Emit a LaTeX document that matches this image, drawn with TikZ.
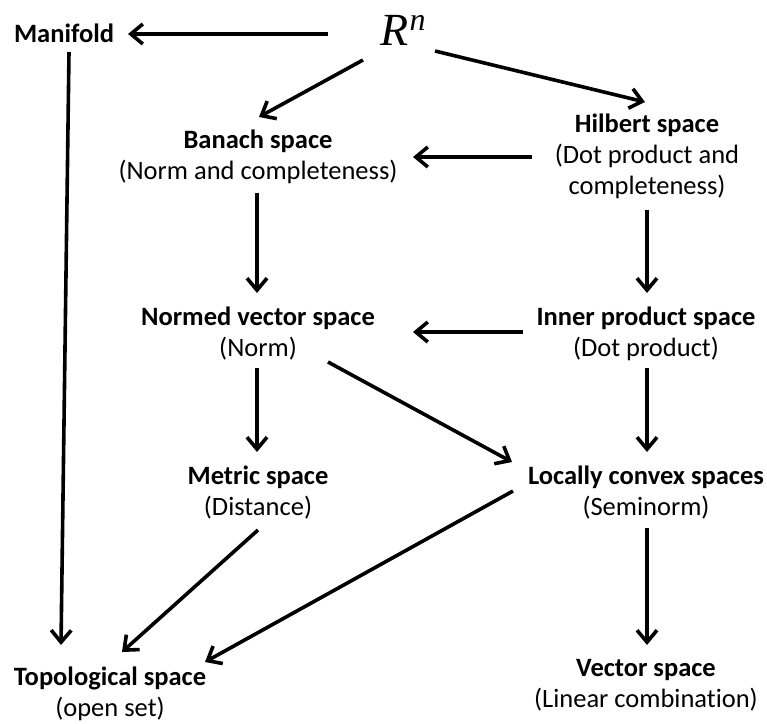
\documentclass[tikz,border=0pt]{standalone}
\usepackage{fontspec}
\setmainfont{Carlito}[Ligatures=NoCommon]
\newfontfamily\rnfont{Liberation Serif}
\usetikzlibrary{arrows.meta}
\tikzset{
  lbl/.style={align=center, inner sep=0pt, font=\fontsize{26.5}{31}\selectfont},
  arr/.style={line width=3.6pt, -{Straight Barb[length=12pt,width=20pt]}}
}
\begin{document}
\begin{tikzpicture}[x=1pt,y=-1pt]
\fill[white] (0,0) rectangle (767,723);
\node[lbl] (man) at (64,33) {\textbf{Manifold}};
\node[inner sep=0pt] (rn) at (403,30) {\rnfont\fontsize{46}{48}\selectfont\itshape R\kern1pt\raisebox{15pt}{\fontsize{32}{33}\selectfont n}};
\node[lbl] (ban) at (258,157) {\textbf{Banach space}\\(Norm and completeness)};
\node[lbl] (hil) at (647,156.5) {\textbf{Hilbert space}\\(Dot product and\\completeness)};
\node[lbl] (nor) at (258,334) {\textbf{Normed vector space}\\(Norm)};
\node[lbl] (inn) at (646,334) {\textbf{Inner product space}\\(Dot product)};
\node[lbl] (met) at (258,492.5) {\textbf{Metric space}\\(Distance)};
\node[lbl] (loc) at (646,492.5) {\textbf{Locally convex spaces}\\(Seminorm)};
\node[lbl] (top) at (110,694) {\textbf{Topological space}\\(open set)};
\node[lbl] (vec) at (646,685) {\textbf{Vector space}\\(Linear combination)};
\draw[arr] ([shift={(-75,4)}]rn.center) -- ([shift={(64,1)}]man.center);
\draw[arr] ([shift={(-40,30)}]rn.center) -- ([shift={(1,-40)}]ban.center);
\draw[arr] ([shift={(32,21)}]rn.center) -- ([shift={(-2,-54.5)}]hil.center);
\draw[arr] ([shift={(-115,0.5)}]hil.center) -- ([shift={(155,0)}]ban.center);
\draw[arr] ([shift={(-1,36)}]ban.center) -- ([shift={(-1,-41)}]nor.center);
\draw[arr] ([shift={(0,53.5)}]hil.center) -- ([shift={(1,-41)}]inn.center);
\draw[arr] ([shift={(-123,-2)}]inn.center) -- ([shift={(155,-2)}]nor.center);
\draw[arr] ([shift={(-1,34)}]nor.center) -- ([shift={(-1,-40.5)}]met.center);
\draw[arr] ([shift={(70,28)}]nor.center) -- ([shift={(-134,-30.5)}]loc.center);
\draw[arr] ([shift={(1,34)}]inn.center) -- ([shift={(1,-40.5)}]loc.center);
\draw[arr] ([shift={(5,19)}]man.center) -- ([shift={(-49,-49)}]top.center);
\draw[arr] ([shift={(0,37.5)}]met.center) -- ([shift={(12,-42)}]top.center);
\draw[arr] ([shift={(-133,-1.5)}]loc.center) -- ([shift={(95,-32)}]top.center);
\draw[arr] ([shift={(1,35.5)}]loc.center) -- ([shift={(1,-40)}]vec.center);
\end{tikzpicture}
\end{document}
